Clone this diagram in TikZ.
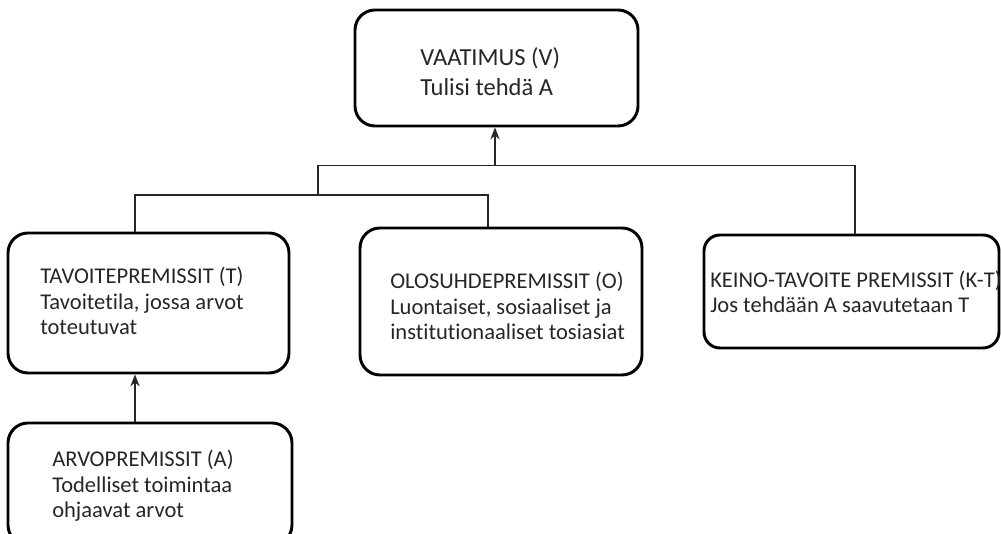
\documentclass[tikz,border=0pt]{standalone}
\usepackage{fontspec}
\setmainfont[Ligatures={NoCommon}]{Carlito}
\usetikzlibrary{arrows.meta}
\begin{document}
\begin{tikzpicture}[x=0.75pt,y=-0.75pt,
  box/.style={draw=black,line width=2.2pt,rounded corners=15pt,inner sep=0pt},
  conn/.style={draw=black!85,line width=1pt},
  arr/.style={conn,-{Stealth[length=9pt,width=7pt,inset=3pt]}},
  bigtxt/.style={anchor=base west,inner sep=0pt,align=left,font=\fontsize{18.4pt}{22.5pt}\selectfont,text=black!85},
  txt/.style={anchor=base west,inner sep=0pt,align=left,font=\fontsize{16.9pt}{19.2pt}\selectfont,text=black!85}]
\useasboundingbox (0,0) rectangle (1001,534);
\begin{scope}
\clip (0,0) rectangle (1001,534);
\node[box,minimum width=283*0.75pt,minimum height=116*0.75pt] (V) at (496.5,68) {};
\node[box,minimum width=281*0.75pt,minimum height=140*0.75pt] (T) at (148.5,303) {};
\node[box,minimum width=282*0.75pt,minimum height=147*0.75pt] (O) at (501,301.5) {};
\node[box,rounded corners=12pt,minimum width=295*0.75pt,minimum height=113*0.75pt] (KT) at (851.5,291.5) {};
\node[box,minimum width=284*0.75pt,minimum height=122*0.75pt] (A) at (150,484) {};
\end{scope}
\node[bigtxt] (Vt) at (420,96) {VAATIMUS (V)\\Tulisi tehdä A};
\node[txt] (Tt) at (40,335) {TAVOITEPREMISSIT (T)\\Tavoitetila, jossa arvot\\toteutuvat};
\node[txt] (Ot) at (390,340) {OLOSUHDEPREMISSIT (O)\\Luontaiset, sosiaaliset ja\\institutionaaliset tosiasiat};
\node[txt] (KTt) at (710,313) {KEINO-TAVOITE PREMISSIT (K-T)\\Jos tehdään A saavutetaan T};
\node[txt] (At) at (52,518) {ARVOPREMISSIT (A)\\Todelliset toimintaa\\ohjaavat arvot};
\coordinate (j1) at (495,165.5);
\coordinate (cL) at (318,165.5);
\coordinate (cR) at (855,165.5);
\coordinate (j2) at (318,195);
\coordinate (j3) at (135,195);
\coordinate (j4) at (488,195);
\draw[arr] (j1) -- (j1 |- V.south);
\draw[conn] (cL) -- (cR) -- (cR |- KT.north);
\draw[conn] (cL) -- (j2);
\draw[conn] (j3 |- T.north) -- (j3) -- (j4) -- (j4 |- O.north);
\draw[arr] (j3 |- A.north) -- (j3 |- T.south);
\end{tikzpicture}
\end{document}
